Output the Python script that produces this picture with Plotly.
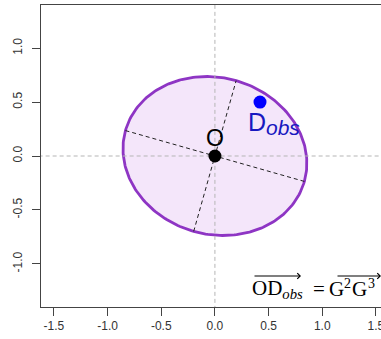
import numpy as np
import plotly.graph_objects as go

# ---- data ----
ellipse_center = (0.0, 0.0)
ellipse_semi_axes = (0.866, 0.726)   # major, minor
ellipse_angle_deg = -15.8
origin_point = (0.0, 0.0)
obs_point = (0.42, 0.50)
x_ticks = [-1.5, -1.0, -0.5, 0.0, 0.5, 1.0, 1.5]
y_ticks = [-1.0, -0.5, 0.0, 0.5, 1.0]
x_range = [-1.62, 1.547]
y_range = [-1.4, 1.4]

W, H = 381, 339
ML, MR, MT, MB = 41, 0, 5, 32

cx, cy = ellipse_center
a, b = ellipse_semi_axes
th = np.deg2rad(ellipse_angle_deg)
t = np.linspace(0, 2 * np.pi, 241)
ex = cx + a * np.cos(t) * np.cos(th) - b * np.sin(t) * np.sin(th)
ey = cy + a * np.cos(t) * np.sin(th) + b * np.sin(t) * np.cos(th)

fig = go.Figure()
fig.add_trace(go.Scatter(x=ex, y=ey, mode="lines", fill="toself",
                         fillcolor="#F4E6FA",
                         line=dict(color="#8E35C4", width=2.8),
                         hoverinfo="skip", showlegend=False))
# reference dashed lines
fig.add_trace(go.Scatter(x=[x_range[0] - 1, x_range[1] + 1], y=[0, 0], mode="lines",
                         line=dict(color="#B5B5B5", width=1, dash="4px,3px"),
                         hoverinfo="skip", showlegend=False))
fig.add_trace(go.Scatter(x=[0, 0], y=[y_range[0] - 1, y_range[1] + 1], mode="lines",
                         line=dict(color="#B5B5B5", width=1, dash="4px,3px"),
                         hoverinfo="skip", showlegend=False))
# ellipse principal axes
maj = (a * np.cos(th), a * np.sin(th))
mnr = (-b * np.sin(th), b * np.cos(th))
for v in (maj, mnr):
    fig.add_trace(go.Scatter(x=[cx - v[0], cx + v[0]], y=[cy - v[1], cy + v[1]],
                             mode="lines",
                             line=dict(color="#222222", width=1, dash="4px,3px"),
                             hoverinfo="skip", showlegend=False))
# points
fig.add_trace(go.Scatter(x=[origin_point[0]], y=[origin_point[1]], mode="markers",
                         marker=dict(color="black", size=13), showlegend=False))
fig.add_trace(go.Scatter(x=[obs_point[0]], y=[obs_point[1]], mode="markers",
                         marker=dict(color="#0000FF", size=13), showlegend=False))

pw = W - ML - MR
ph = H - MT - MB
def px2x(px):
    return x_range[0] + (px - ML) / pw * (x_range[1] - x_range[0])
def py2y(py):
    return y_range[1] - (py - MT) / ph * (y_range[1] - y_range[0])

ann = []
# "O" label
ann.append(dict(x=0.0, y=py2y(137.5), xref="x", yref="y", text="O", showarrow=False,
                font=dict(family="Liberation Sans", size=23, color="black"),
                xanchor="center", yanchor="middle"))
# D_obs label
ann.append(dict(x=px2x(246), y=py2y(133), xref="x", yref="y", text="D", showarrow=False,
                font=dict(family="Liberation Sans", size=25, color="#1818C0"),
                xanchor="left", yanchor="bottom", yshift=-5))
ann.append(dict(x=px2x(264), y=py2y(136), xref="x", yref="y", text="<i>obs</i>", showarrow=False,
                font=dict(family="Liberation Sans", size=21, color="#1818C0"),
                xanchor="left", yanchor="bottom", yshift=-5))

# formula pieces (text, left px, middle px, size)
serif = "Liberation Serif"
pieces = [
    ("OD<sub><i>obs</i></sub>", 251, 288.5, 21),
    ("=", 312, 288.5, 21),
    ("G", 328, 288.5, 21),
    ("2", 343, 283.0, 14),
    ("G", 351, 288.5, 21),
    ("3", 367, 283.0, 14),
]
for txt, xl, ym, sz in pieces:
    ann.append(dict(x=px2x(xl), y=py2y(ym), xref="x", yref="y", text=txt,
                    showarrow=False, font=dict(family=serif, size=sz, color="black"),
                    xanchor="left", yanchor="middle", borderpad=0))
# over-arrows
for x0, x1 in ((253, 301), (336, 381)):
    ann.append(dict(x=px2x(x1), y=py2y(276), ax=px2x(x0), ay=py2y(276),
                    xref="x", yref="y", axref="x", ayref="y", text="",
                    showarrow=True, arrowhead=4, arrowsize=1.0, arrowwidth=1.1,
                    arrowcolor="black"))

fig.update_layout(
    width=W, height=H,
    margin=dict(l=ML, r=MR, t=MT, b=MB, autoexpand=False),
    plot_bgcolor="white", paper_bgcolor="white",
    annotations=ann,
    showlegend=False,
)
fig.update_xaxes(range=x_range, tickvals=x_ticks, ticktext=[f"{v:.1f}" for v in x_ticks],
                 ticks="outside", ticklen=8, tickcolor="#444", tickwidth=1,
                 showline=True, mirror=True, linecolor="#444", linewidth=1,
                 showgrid=False, zeroline=False, automargin=False,
                 ticklabeloverflow="allow",
                 tickfont=dict(family="Liberation Sans", size=12, color="#333"))
fig.update_yaxes(range=y_range, tickvals=y_ticks, ticktext=[f"{v:.1f}" for v in y_ticks],
                 ticks="outside", ticklen=8, tickcolor="#444", tickwidth=1, tickangle=-90,
                 showline=True, mirror=False, linecolor="#444", linewidth=1,
                 showgrid=False, zeroline=False, ticklabelstandoff=5, automargin=False,
                 tickfont=dict(family="Liberation Sans", size=12, color="#333"))

fig.write_html("out.html", config={"displayModeBar": False},
               post_script="document.body.style.margin='0';document.body.style.padding='0';")
